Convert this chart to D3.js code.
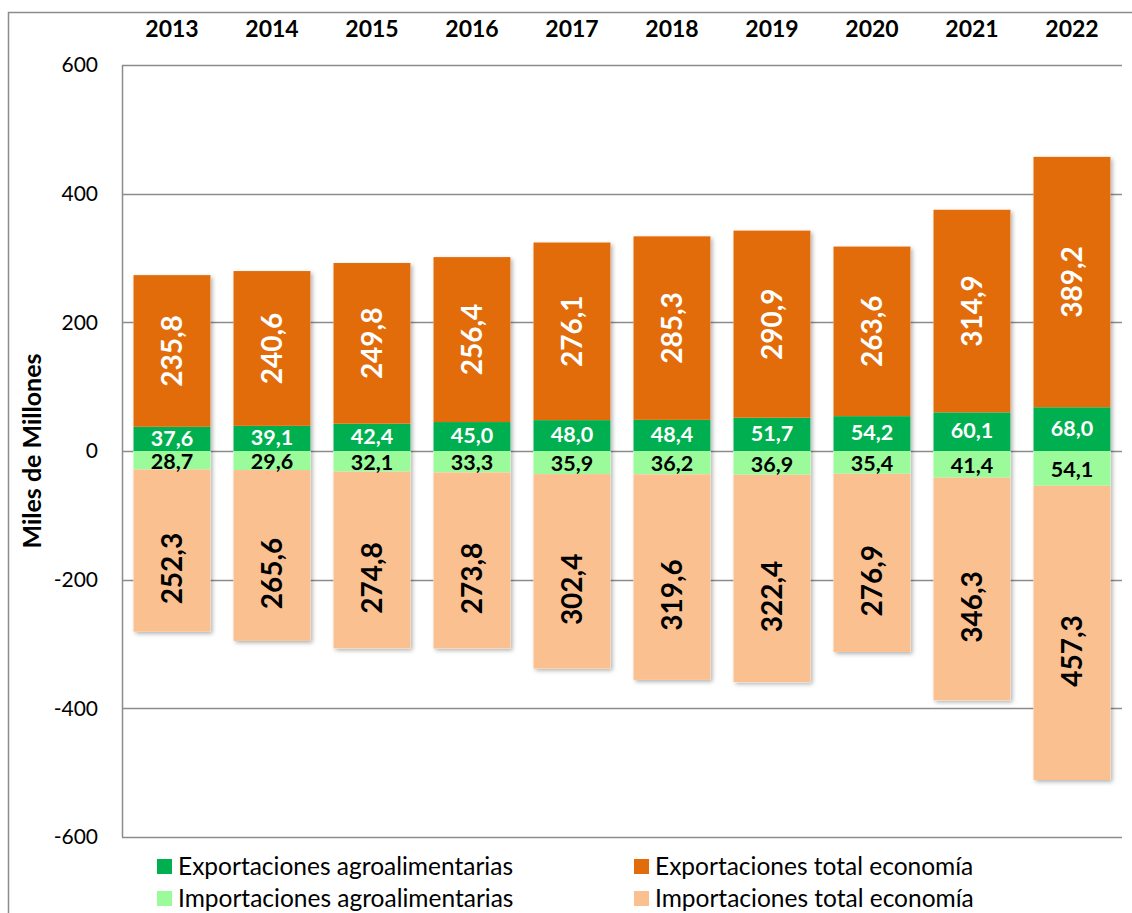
<!DOCTYPE html>
<html>
<head>
<meta charset="utf-8">
<script src="https://cdn.jsdelivr.net/npm/d3@7"></script>
<style>
  body { margin: 0; background: #fff; }
  svg { display: block; font-family: Lato, 'Open Sans', sans-serif; }
</style>
</head>
<body>
<svg id="chart" width="1132" height="913"></svg>
<script>
const years = ['2013', '2014', '2015', '2016', '2017', '2018', '2019', '2020', '2021', '2022']
const expAgro = [37.6, 39.1, 42.4, 45.0, 48.0, 48.4, 51.7, 54.2, 60.1, 68.0]
const expTotal = [235.8, 240.6, 249.8, 256.4, 276.1, 285.3, 290.9, 263.6, 314.9, 389.2]
const impAgro = [28.7, 29.6, 32.1, 33.3, 35.9, 36.2, 36.9, 35.4, 41.4, 54.1]
const impTotal = [252.3, 265.6, 274.8, 273.8, 302.4, 319.6, 322.4, 276.9, 346.3, 457.3]
const yTicks = [-600, -400, -200, 0, 200, 400, 600]

const seriesNames = {
  expAgro: 'Exportaciones agroalimentarias',
  expTotal: 'Exportaciones total economía',
  impAgro: 'Importaciones agroalimentarias',
  impTotal: 'Importaciones total economía',
}
const colors = {
  expAgro: '#00b050',
  expTotal: '#e36c0a',
  impAgro: '#9bfb9b',
  impTotal: '#fac090',
}
const keys = ['expAgro', 'expTotal', 'impAgro', 'impTotal']

// importaciones en negativo para apilar hacia abajo
const rows = years.map((y, i) => ({
  year: y,
  expAgro: expAgro[i],
  expTotal: expTotal[i],
  impAgro: -impAgro[i],
  impTotal: -impTotal[i],
}))

const es = d3.formatLocale({ decimal: ',', thousands: '.', grouping: [3], currency: ['', ' €'] })
const fmt = es.format('.1f')

const margin = { left: 122, top: 65, right: 10, bottom: 76 }
const width = 1132
const height = 913

const svg = d3.select('#chart')

const defs = svg.append('defs')
defs.append('filter')
  .attr('id', 'shadow')
  .attr('x', '-20%').attr('y', '-20%')
  .attr('width', '140%').attr('height', '140%')
  .append('feDropShadow')
  .attr('dx', 2).attr('dy', 2)
  .attr('stdDeviation', 2)
  .attr('flood-color', '#000')
  .attr('flood-opacity', 0.3)

// marco exterior
svg.append('rect')
  .attr('x', 8.5).attr('y', 12.5)
  .attr('width', 1200).attr('height', 1000)
  .attr('fill', 'none')
  .attr('stroke', '#8c8c8c')
  .attr('stroke-width', 1.5)

const x = d3.scaleBand()
  .domain(years)
  .range([margin.left, width - margin.right])
  .paddingInner(0.23)
  .paddingOuter(0.115)

const y = d3.scaleLinear()
  .domain([-600, 600])
  .range([height - margin.bottom, margin.top])

// rejilla
svg.append('g')
  .selectAll('line')
  .data(yTicks)
  .join('line')
  .attr('x1', margin.left)
  .attr('x2', width - margin.right)
  .attr('y1', d => Math.round(y(d)) + 0.5)
  .attr('y2', d => Math.round(y(d)) + 0.5)
  .attr('stroke', '#8c8c8c')
  .attr('stroke-width', 1.5)

svg.append('line')
  .attr('x1', margin.left + 0.5).attr('x2', margin.left + 0.5)
  .attr('y1', y(600)).attr('y2', y(-600))
  .attr('stroke', '#8c8c8c')
  .attr('stroke-width', 1.5)

// eje y
const yAxis = svg.append('g')
  .attr('transform', `translate(${margin.left - 24},0)`)
  .call(d3.axisLeft(y).tickValues(yTicks).tickSize(0).tickPadding(0).tickFormat(d => String(d)))
yAxis.select('.domain').remove()
yAxis.selectAll('text')
  .attr('font-family', 'Lato, sans-serif')
  .attr('font-size', 21)
  .attr('fill', '#000')

svg.append('text')
  .attr('transform', `translate(41,${y(0)}) rotate(-90)`)
  .attr('text-anchor', 'middle')
  .attr('font-size', 25)
  .attr('font-weight', 'bold')
  .text('Miles de Millones')

// años arriba
svg.append('g')
  .selectAll('text')
  .data(years)
  .join('text')
  .attr('x', d => x(d) + x.bandwidth() / 2)
  .attr('y', 37)
  .attr('text-anchor', 'middle')
  .attr('font-size', 23)
  .attr('font-weight', 'bold')
  .text(d => d)

// sombra de cada barra completa, detrás
svg.append('g')
  .attr('filter', 'url(#shadow)')
  .selectAll('rect')
  .data(rows)
  .join('rect')
  .attr('x', d => x(d.year))
  .attr('width', x.bandwidth())
  .attr('y', d => y(d.expAgro + d.expTotal))
  .attr('height', d => y(d.impAgro + d.impTotal) - y(d.expAgro + d.expTotal))
  .attr('fill', '#fff')

// barras apiladas
const stack = d3.stack().keys(keys).offset(d3.stackOffsetDiverging)
const series = stack(rows)

const layers = svg.append('g')
  .selectAll('g')
  .data(series)
  .join('g')
  .attr('fill', d => colors[d.key])

layers.selectAll('rect')
  .data(d => d)
  .join('rect')
  .attr('x', d => x(d.data.year))
  .attr('width', x.bandwidth())
  .attr('y', d => y(Math.max(d[0], d[1])))
  .attr('height', d => Math.abs(y(d[0]) - y(d[1])))

// etiquetas
const labels = svg.append('g')
series.forEach(s => {
  const rotated = s.key === 'expTotal' || s.key === 'impTotal'
  const dark = s.key === 'impAgro' || s.key === 'impTotal'
  let shift = 0
  if (s.key === 'impTotal') shift = 18
  if (s.key === 'expAgro') shift = -1
  if (s.key === 'impAgro') shift = 1
  labels.append('g')
    .selectAll('text')
    .data(s)
    .join('text')
    .attr('transform', d => {
      const cx = x(d.data.year) + x.bandwidth() / 2
      const cy = y((d[0] + d[1]) / 2) + shift
      return rotated ? `translate(${cx},${cy}) rotate(-90)` : `translate(${cx},${cy})`
    })
    .attr('text-anchor', 'middle')
    .attr('dy', '0.36em')
    .attr('font-size', rotated ? 28 : 21.5)
    .attr('font-weight', 'bold')
    .attr('fill', dark ? '#000' : '#fff')
    .text(d => fmt(Math.abs(d[1] - d[0])))
})

// leyenda
const legendItems = [
  { key: 'expAgro', col: 0, row: 0 },
  { key: 'expTotal', col: 1, row: 0 },
  { key: 'impAgro', col: 0, row: 1 },
  { key: 'impTotal', col: 1, row: 1 },
]
const legend = svg.append('g')
  .selectAll('g')
  .data(legendItems)
  .join('g')
  .attr('transform', d => `translate(${157 + d.col * 477},${859 + d.row * 32})`)
legend.append('rect')
  .attr('width', 15).attr('height', 15)
  .attr('fill', d => colors[d.key])
legend.append('text')
  .attr('x', 21)
  .attr('y', 16)
  .attr('font-size', 24.5)
  .text(d => seriesNames[d.key])
</script>
</body>
</html>
